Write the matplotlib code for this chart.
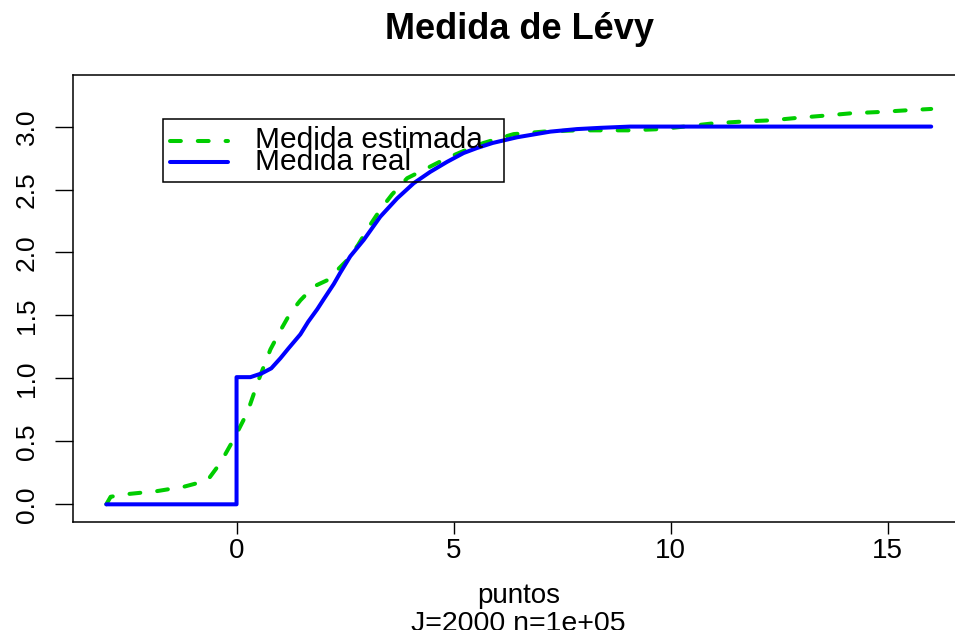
import matplotlib
matplotlib.use("Agg")
import matplotlib.pyplot as plt
from matplotlib.lines import Line2D
from matplotlib.patches import Rectangle

plt.rcParams['font.family'] = ['Liberation Sans', 'DejaVu Sans']

# ---- data ----
real_x = [-3, 0, 0, 0.32, 0.58, 0.8, 1.01, 1.2, 1.47, 1.65, 1.86, 2.01, 2.24,
          2.39, 2.62, 2.93, 3.31, 3.70, 4.08, 4.46, 4.85, 5.23, 5.54, 5.9,
          6.46, 7.23, 7.84, 8.38, 9.07, 16]
real_y = [0, 0, 1.01, 1.01, 1.04, 1.08, 1.16, 1.24, 1.35, 1.45, 1.55, 1.63, 1.75,
          1.84, 1.97, 2.10, 2.284, 2.43, 2.55, 2.64, 2.72, 2.79, 2.83, 2.87,
          2.915, 2.96, 2.98, 2.99, 3.0, 3.0]

est_x = [-3, -2.9, -2.55, -1.83, -1.21, -0.67, -0.37, -0.06, 0.25, 0.51, 0.78,
         1.01, 1.24, 1.47, 1.78, 2.09, 2.32, 2.55, 2.8, 3.08, 3.31, 3.58, 3.93,
         4.39, 4.85, 5.39, 5.69, 6.38, 7.07, 7.84, 8.38, 9.07, 9.76, 10.45,
         10.99, 11.66, 12.33, 12.94, 13.55, 14.17, 14.82, 15.47, 16.0]
est_y = [0.0, 0.06, 0.08, 0.105, 0.14, 0.19, 0.33, 0.52, 0.73, 0.99, 1.23,
         1.38, 1.52, 1.62, 1.73, 1.78, 1.86, 1.94, 2.06, 2.22, 2.34, 2.46, 2.59,
         2.67, 2.75, 2.83, 2.87, 2.94, 2.96, 2.97, 2.97, 2.97, 2.98, 3.005,
         3.026, 3.04, 3.05, 3.07, 3.087, 3.106, 3.116, 3.13, 3.14]

x_ticks = [0, 5, 10, 15]
x_tick_labels = ["0", "5", "10", "15"]
y_ticks = [0.0, 0.5, 1.0, 1.5, 2.0, 2.5, 3.0]
y_tick_labels = ["0.0", "0.5", "1.0", "1.5", "2.0", "2.5", "3.0"]

series_labels = ["Medida estimada", "Medida real"]
title = "Medida de Lévy"
xlabel = "puntos"
subtitle = "J=2000 n=1e+05"

GREEN = "#00CD00"
BLUE = "#0000FF"

W, H = 955, 630
fig = plt.figure(figsize=(W / 100, H / 100), dpi=100)
fig.patch.set_facecolor("white")

left, right, top, bottom = 73.3, 964.2, 74.7, 521.7
ax = fig.add_axes([left / W, (H - bottom) / H, (right - left) / W, (bottom - top) / H])

ax.plot(est_x, est_y, color=GREEN, lw=2.9, linestyle=(0, (2.7, 4.2)),
        dash_capstyle='round', solid_capstyle='round', zorder=3)
ax.plot(real_x, real_y, color=BLUE, lw=2.9, solid_capstyle='round',
        solid_joinstyle='round', zorder=4)

ax.set_xlim(-3.76, 16.76)
ax.set_ylim(-0.138, 3.412)

ax.set_xticks(x_ticks)
ax.set_xticklabels(x_tick_labels, fontsize=20)
ax.set_yticks(y_ticks)
ax.set_yticklabels(y_tick_labels, fontsize=19, rotation=90, va='center')
ax.tick_params(axis='x', length=8.5, width=1, pad=3, direction='out')
ax.tick_params(axis='y', length=13, width=1, pad=12, direction='out')
for s in ax.spines.values():
    s.set_linewidth(1.1)
    s.set_color("black")

# titles / labels (figure coordinates)
fig.text(519 / W, 1 - 39 / H, title, fontsize=26, fontweight='bold',
         ha='center', va='baseline')
fig.text(519 / W, 1 - 603 / H, xlabel, fontsize=20, ha='center', va='baseline')
fig.text(518 / W, 1 - 631 / H, subtitle, fontsize=20.5, ha='center', va='baseline')

# legend drawn by hand to mimic R's compact legend
tf = fig.transFigure
fig.patches.append(Rectangle((163.3 / W, 1 - 182.3 / H), (504.3 - 163.3) / W,
                             (182.3 - 119.3) / H, transform=tf, fill=False,
                             edgecolor='black', lw=1.1, zorder=10))
fig.lines.append(Line2D([170 / W, 228 / W], [1 - 140.7 / H] * 2, transform=tf,
                        color=GREEN, lw=2.9, linestyle=(0, (2.7, 4.2)),
                        dash_capstyle='round', zorder=10))
fig.lines.append(Line2D([170 / W, 228 / W], [1 - 161.7 / H] * 2, transform=tf,
                        color=BLUE, lw=2.9, solid_capstyle='round', zorder=10))
fig.text(255 / W, 1 - 148.3 / H, series_labels[0], fontsize=21.5, ha='left',
         va='baseline', zorder=11)
fig.text(255 / W, 1 - 170 / H, series_labels[1], fontsize=21.5, ha='left',
         va='baseline', zorder=11)

fig.savefig("out.png", dpi=100)
